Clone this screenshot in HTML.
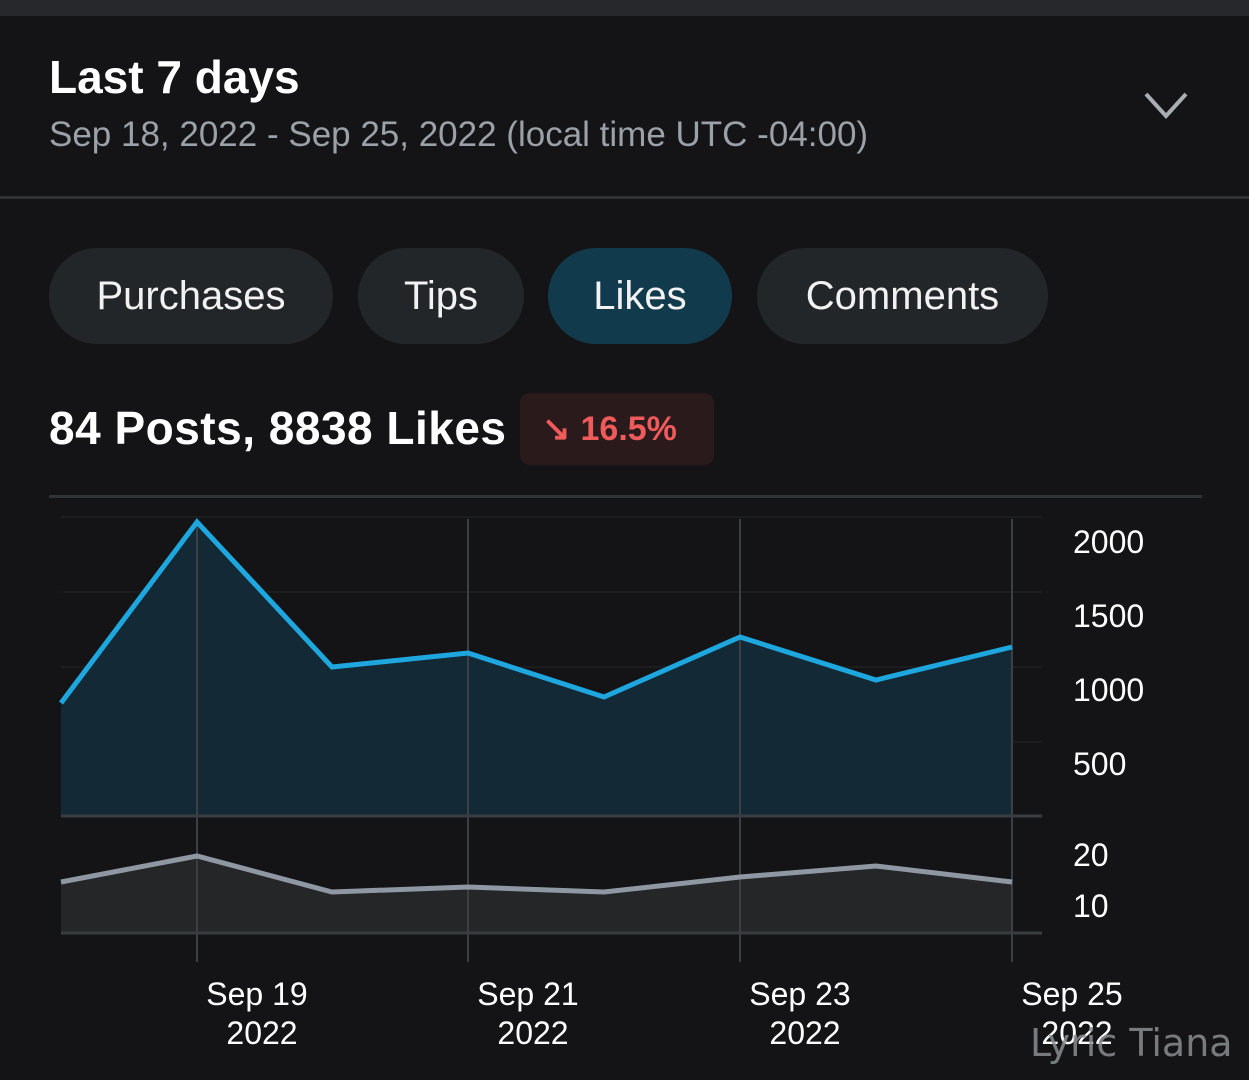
<!DOCTYPE html>
<html><head><meta charset="utf-8"><style>
body{margin:0;width:1249px;height:1080px;background:#141416;font-family:"Liberation Sans",sans-serif;position:relative;overflow:hidden;color:#fff}
.a{position:absolute;white-space:nowrap}
.pill{position:absolute;top:248px;height:96px;border-radius:48px;background:#232628;color:#f2f2f2;font-size:40px;line-height:96px;text-align:center}
</style></head><body>
<div class="a" style="left:0;top:0;width:1249px;height:16px;background:#26282b"></div>
<div class="a" style="left:49px;top:50px;font-size:46px;font-weight:bold">Last 7 days</div>
<div class="a" style="left:49px;top:115px;font-size:35px;color:#9ba1a8">Sep 18, 2022 - Sep 25, 2022 (local time UTC -04:00)</div>
<svg class="a" style="left:1140px;top:88px" width="56" height="36"><polyline points="6,6 26,28 46,6" fill="none" stroke="#a9aeb4" stroke-width="4"/></svg>
<div class="a" style="left:0;top:196px;width:1249px;height:3px;background:#303335"></div>
<div class="pill" style="left:49px;width:284px">Purchases</div>
<div class="pill" style="left:358px;width:166px">Tips</div>
<div class="pill" style="left:548px;width:184px;background:#113a4c">Likes</div>
<div class="pill" style="left:757px;width:291px">Comments</div>
<div class="a" style="left:49px;top:401px;font-size:46px;font-weight:bold;letter-spacing:0.5px">84 Posts, 8838 Likes</div>
<div class="a" style="left:520px;top:393px;width:194px;height:72px;border-radius:10px;background:#2a1a1b;color:#ef5b5b;font-size:34px;line-height:72px;font-weight:bold"><span style="margin-left:22px;margin-right:10px">↘</span>16.5%</div>
<div class="a" style="left:49px;top:495px;width:1153px;height:3px;background:#303335"></div>
<svg class="a" style="left:0;top:0" width="1249" height="1080">
<g stroke="#1b1d1f" stroke-width="2"><line x1="61" y1="517" x2="1042" y2="517"/><line x1="61" y1="592" x2="1042" y2="592"/><line x1="61" y1="667" x2="1042" y2="667"/><line x1="61" y1="742" x2="1042" y2="742"/></g>
<polygon points="61,703 197,522 332,667 468,653 604,697 740,637 876,680 1012,647 1012,816 61,816" fill="#132a36"/>
<polygon points="61,882 197,856 332,892 468,887 604,892 740,877 876,866 1012,882 1012,933 61,933" fill="#242628"/>
<g stroke="#3c4044" stroke-width="2"><line x1="197" y1="519" x2="197" y2="962"/><line x1="468" y1="519" x2="468" y2="962"/><line x1="740" y1="519" x2="740" y2="962"/><line x1="1012" y1="519" x2="1012" y2="962"/></g>
<line x1="61" y1="816" x2="1042" y2="816" stroke="#3a3d40" stroke-width="3"/>
<line x1="61" y1="933" x2="1042" y2="933" stroke="#3a3d40" stroke-width="3"/>
<polyline points="61,703 197,522 332,667 468,653 604,697 740,637 876,680 1012,647" fill="none" stroke="#1ea7df" stroke-width="5"/>
<polyline points="61,882 197,856 332,892 468,887 604,892 740,877 876,866 1012,882" fill="none" stroke="#8f98a2" stroke-width="5"/>
<g font-family="Liberation Sans" font-size="32" fill="#fff"><text x="1073" y="553">2000</text><text x="1073" y="627">1500</text><text x="1073" y="701">1000</text><text x="1073" y="775">500</text><text x="1073" y="866">20</text><text x="1073" y="917">10</text></g>
<g font-family="Liberation Sans" font-size="32" fill="#fff" text-anchor="middle"><text x="257" y="1005">Sep 19</text><text x="262" y="1044">2022</text><text x="528" y="1005">Sep 21</text><text x="533" y="1044">2022</text><text x="800" y="1005">Sep 23</text><text x="805" y="1044">2022</text><text x="1072" y="1005">Sep 25</text><text x="1077" y="1044">2022</text></g>
<text x="1030" y="1056" font-family="DejaVu Sans" font-size="38" fill="#8a8d90" fill-opacity="0.85">Lyric Tiana</text>
</svg>
</body></html>
